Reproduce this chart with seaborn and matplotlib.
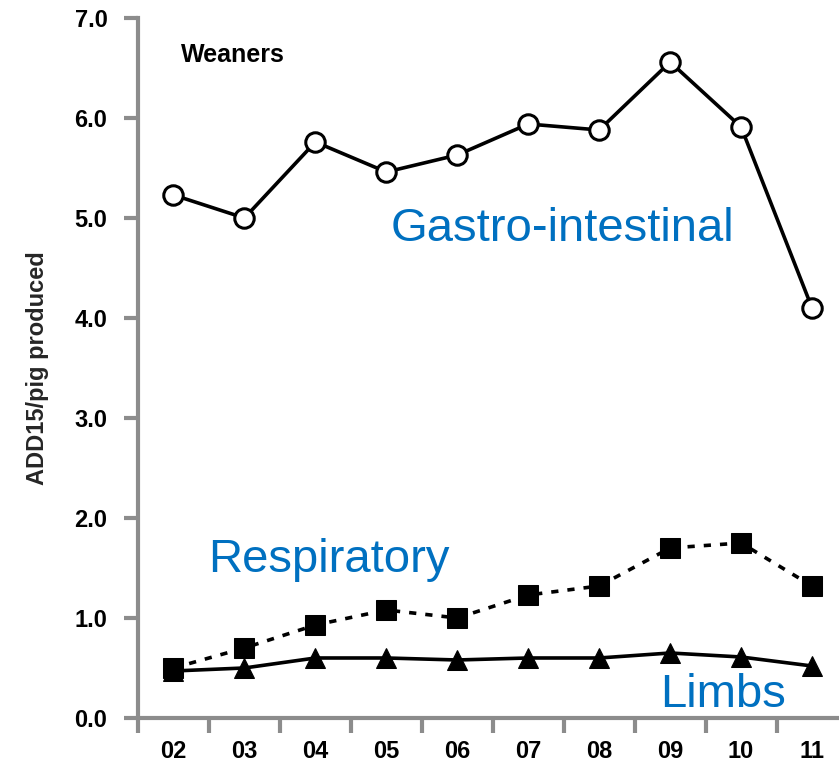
import matplotlib
matplotlib.use("Agg")
import matplotlib.pyplot as plt
import seaborn as sns
from matplotlib.ticker import FixedLocator

# Values
years = ["02", "03", "04", "05", "06", "07", "08", "09", "10", "11"]
gastro = [5.23, 5.00, 5.76, 5.46, 5.63, 5.94, 5.88, 6.56, 5.91, 4.10]
respiratory = [0.50, 0.70, 0.93, 1.08, 1.00, 1.23, 1.32, 1.70, 1.75, 1.32]
limbs = [0.47, 0.50, 0.60, 0.60, 0.58, 0.60, 0.60, 0.65, 0.61, 0.52]

sns.set_style("ticks")
plt.rcParams["font.family"] = ["Liberation Sans", "DejaVu Sans"]

fig = plt.figure(figsize=(8.39, 7.63), dpi=100)
ax = fig.add_axes([0.1645, 0.059, 0.8355, 0.9174])

# Gastro-intestinal: open circles, solid line
sns.lineplot(x=years, y=gastro, ax=ax, color="black", lw=2.6, marker="o",
             markersize=14, markerfacecolor="white", markeredgecolor="black",
             markeredgewidth=2.2, clip_on=False)

# Respiratory: filled squares, dashed line
sns.lineplot(x=years, y=respiratory, ax=ax, color="black", lw=2.6,
             linestyle=(0, (2, 2.5)), marker="s", markersize=15,
             markerfacecolor="black", markeredgecolor="black", clip_on=False)

# Limbs: filled triangles, solid line
sns.lineplot(x=years, y=limbs, ax=ax, color="black", lw=2.6, marker="^",
             markersize=15, markerfacecolor="black", markeredgecolor="black",
             clip_on=False)

ax.set_xlim(-0.5, 9.38)
ax.set_ylim(0, 7)
ax.set_yticks(range(0, 8))
ax.set_yticklabels([f"{v:.1f}" for v in range(0, 8)])
ax.xaxis.set_minor_locator(FixedLocator([i - 0.5 for i in range(len(years))]))

grey = "#8c8c8c"
for side in ["top", "right"]:
    ax.spines[side].set_visible(False)
for side in ["left", "bottom"]:
    ax.spines[side].set_color(grey)
    ax.spines[side].set_linewidth(3)

ax.tick_params(axis="y", which="major", length=10, width=3, color=grey,
               labelsize=17, labelcolor="black", pad=12)
ax.tick_params(axis="x", which="major", length=0, labelsize=17,
               labelcolor="black", pad=16)
ax.tick_params(axis="x", which="minor", length=11, width=3, color=grey)
for lab in ax.get_xticklabels() + ax.get_yticklabels():
    lab.set_fontweight("bold")

ax.set_xlabel("")
ax.set_ylabel("ADD15/pig produced", fontsize=17, fontweight="bold", labelpad=18)

# Annotations
blue = "#0070C0"
ax.text(0.1, 6.63, "Weaners", fontsize=18, fontweight="bold", color="black",
        va="center", ha="left")
ax.text(3.06, 4.89, "Gastro-intestinal", fontsize=34, color=blue, va="center", ha="left")
ax.text(0.49, 1.58, "Respiratory", fontsize=34, color=blue, va="center", ha="left")
ax.text(6.86, 0.23, "Limbs", fontsize=34, color=blue, va="center", ha="left")

plt.savefig("out.png", dpi=100)
